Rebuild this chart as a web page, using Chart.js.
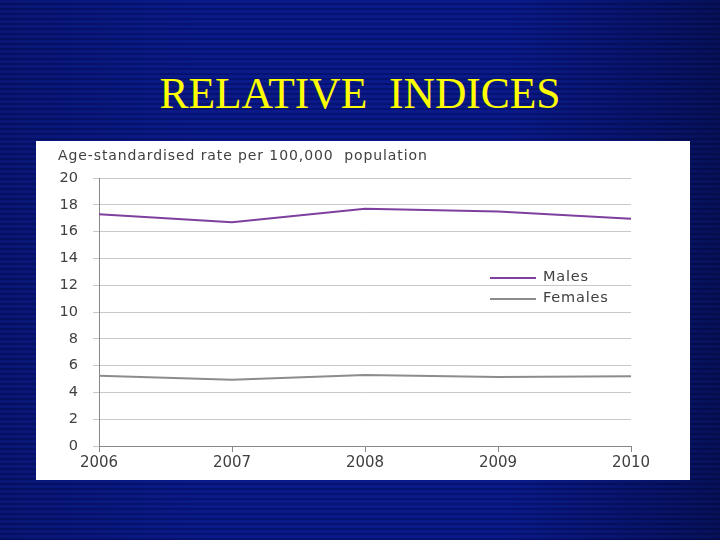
<!DOCTYPE html>
<html><head>
<script src="https://cdn.jsdelivr.net/npm/chart.js@4/dist/chart.umd.min.js"></script>
<style>
body{margin:0;width:720px;height:540px;overflow:hidden;position:relative;
background:repeating-linear-gradient(180deg,#0a1a8a 0px,#0a1a8a 3px,#061270 3px,#061270 5px);}
#bgfade{position:absolute;left:0;top:0;width:720px;height:540px;background:linear-gradient(90deg,rgba(0,0,0,0.15),rgba(0,0,0,0) 30%,rgba(0,0,0,0) 70%,rgba(0,0,0,0.35));}
#title{position:absolute;left:0;width:720px;top:68px;text-align:center;font-family:"Liberation Serif",serif;font-size:43.5px;color:#ffff00;}
#panel{position:absolute;left:36px;top:141px;width:654px;height:339px;background:#fff;}
#ylab{position:absolute;left:58px;top:147px;font-family:"DejaVu Sans",sans-serif;font-size:14px;color:#404040;letter-spacing:0.9px;}
.leg{position:absolute;font-family:"DejaVu Sans",sans-serif;font-size:14.5px;color:#404040;letter-spacing:0.8px;}
.ll{position:absolute;height:2px;width:46px;}
</style></head><body>
<div id="bgfade"></div>
<div id="title">RELATIVE&nbsp; INDICES</div>
<div id="panel"><canvas id="c" width="654" height="339"></canvas></div>
<div id="ylab">Age-standardised rate per 100,000&nbsp; population</div>
<div class="ll" style="left:490px;top:277px;background:#7f3f9f"></div>
<div class="leg" style="left:543px;top:268px">Males</div>
<div class="ll" style="left:490px;top:298px;background:#8c8c8c"></div>
<div class="leg" style="left:543px;top:289px">Females</div>
<script>
const years=["2006","2007","2008","2009","2010"];
const males=[17.3,16.7,17.7,17.5,16.95];
const females=[5.25,4.95,5.3,5.15,5.2];
const yTicks=[0,2,4,6,8,10,12,14,16,18,20];
new Chart(document.getElementById('c'),{type:'line',
data:{labels:years,datasets:[
{label:'Males',data:males,borderColor:'#7f3f9f',borderWidth:2,pointRadius:0,tension:0},
{label:'Females',data:females,borderColor:'#8c8c8c',borderWidth:2,pointRadius:0,tension:0}]},
options:{responsive:false,animation:false,layout:{padding:{left:0,top:37,right:59,bottom:0}},
plugins:{legend:{display:false},tooltip:{enabled:false}},
scales:{
x:{offset:false,grid:{display:true,drawOnChartArea:false,color:'#888',tickLength:6},border:{color:'#888'},
ticks:{color:'#404040',font:{family:'DejaVu Sans',size:15},padding:2,maxRotation:0},
afterFit:s=>{s.height=34;}},
y:{min:0,max:20,afterBuildTicks:s=>{s.ticks=yTicks.map(v=>({value:v}));},
grid:{color:'#c8c8c8',tickLength:6,drawTicks:true},border:{color:'#888'},
ticks:{color:'#404040',font:{family:'DejaVu Sans',size:14.5},padding:15},
afterFit:s=>{s.width=63;}}}}});
</script></body></html>
